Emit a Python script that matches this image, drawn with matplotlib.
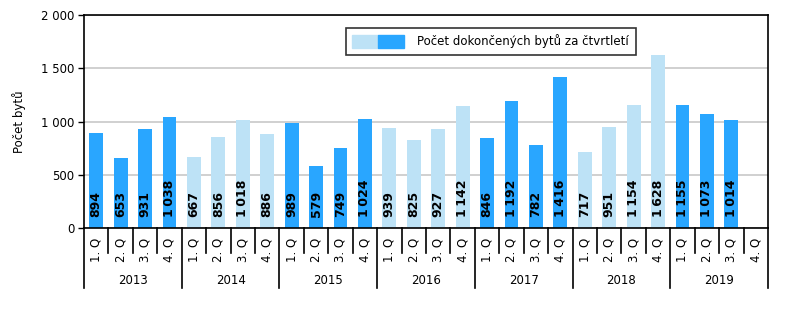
import matplotlib
matplotlib.use("Agg")
import matplotlib.pyplot as plt
from matplotlib.patches import Patch
from matplotlib.legend_handler import HandlerTuple
import matplotlib.transforms as mtransforms

years = ["2013", "2014", "2015", "2016", "2017", "2018", "2019"]
quarters = ["1. Q", "2. Q", "3. Q", "4. Q"]
values = [
    894, 653, 931, 1038,
    667, 856, 1018, 886,
    989, 579, 749, 1024,
    939, 825, 927, 1142,
    846, 1192, 782, 1416,
    717, 951, 1154, 1628,
    1155, 1073, 1014, None,
]
dark = "#29A6FF"
light = "#BDE2F6"
year_colors = [dark, light, dark, light, dark, light, dark]

plt.rcParams["font.family"] = ["DejaVu Sans"]

fig = plt.figure(figsize=(8.03, 3.23), dpi=100)
ax = fig.add_axes([84 / 803, 95 / 323, 684 / 803, 213 / 323])

n = len(values)
for i, v in enumerate(values):
    if v is None:
        continue
    c = year_colors[i // 4]
    ax.bar(i, v, width=0.57, color=c, zorder=2)
    lbl = f"{v:,}".replace(",", "\u2009") if v >= 1000 else str(v)
    ax.annotate(lbl, (i, 0), xytext=(0, 8), textcoords="offset points",
                rotation=90, ha="center", va="bottom",
                fontsize=9, fontweight="bold", color="black", zorder=3)

ax.set_xlim(-0.5, n - 0.5)
ax.set_ylim(0, 2000)
ax.set_yticks([0, 500, 1000, 1500, 2000])
ax.set_yticklabels(["0", "500", "1 000", "1 500", "2 000"], fontsize=8.5)
ax.yaxis.grid(True, color="#C8C8C8", linewidth=1.2, zorder=0)
ax.set_axisbelow(True)
ax.set_xticks([])
ax.tick_params(axis="y", length=4, width=1, direction="out", pad=3)
for s in ax.spines.values():
    s.set_color("black")
    s.set_linewidth(1.2)
ax.set_ylabel("Počet bytů", fontsize=8.5, labelpad=11)

# Two-level category axis below the plot
trans = mtransforms.blended_transform_factory(ax.transData, ax.transAxes)
q_bottom = -25 / 213
y_bottom = -60 / 213
for i in range(n):
    ax.text(i, -0.045, quarters[i % 4], rotation=90, ha="center", va="top",
            fontsize=8.5, transform=trans)
for k in range(n + 1):
    x = k - 0.5
    yb = y_bottom if k % 4 == 0 else q_bottom
    ax.plot([x, x], [0, yb], color="black", linewidth=1.2,
            transform=trans, clip_on=False)
for j, yr in enumerate(years):
    ax.text(j * 4 + 1.5, -52 / 213, yr, ha="center", va="center",
            fontsize=8.5, transform=trans)

handle = (Patch(color=light), Patch(color=dark))
leg = ax.legend([handle], ["Počet dokončených bytů za čtvrtletí"],
                handler_map={tuple: HandlerTuple(ndivide=None, pad=0)},
                loc="upper left", bbox_to_anchor=(0.383, 0.94),
                handlelength=4.4, handleheight=1.3, fontsize=8.5,
                frameon=True, fancybox=False, borderpad=0.55,
                handletextpad=1.1, borderaxespad=0)
leg.get_frame().set_edgecolor("black")
leg.get_frame().set_linewidth(1.2)

fig.savefig("out.png", dpi=100)
